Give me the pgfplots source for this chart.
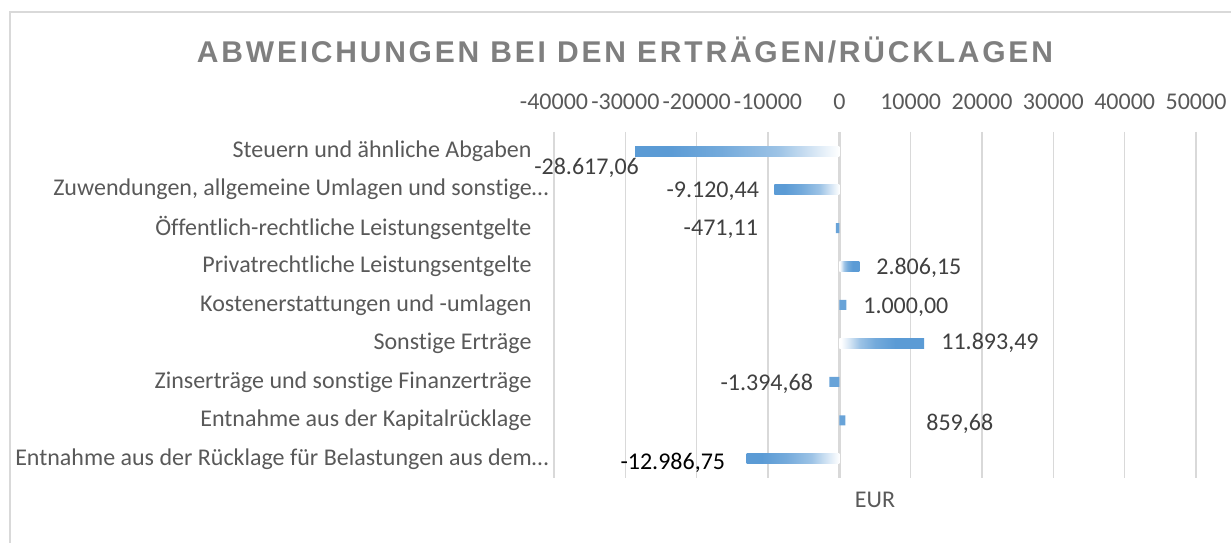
\documentclass[border=0pt]{standalone}
\usepackage{pgfplots}
\pgfplotsset{compat=1.18}
\usepackage{fontspec}
\setmainfont{Carlito}[Ligatures=NoCommon]
\newfontfamily\titlefont[LetterSpace=9.3]{Liberation Sans}
\definecolor{barblue}{HTML}{5B9BD5}
\definecolor{txtgray}{HTML}{595959}
\definecolor{lblgray}{HTML}{404040}
\definecolor{gridgray}{HTML}{D9D9D9}
\definecolor{titlegray}{HTML}{7F7F7F}
\colorlet{bbA}{barblue!85!white}
\colorlet{bbB}{barblue!60!white}
\colorlet{bbC}{barblue!20!white}
\pgfdeclarehorizontalshading{negfade}{100bp}{color(0bp)=(barblue); color(25bp)=(barblue); color(33bp)=(barblue); color(46bp)=(bbA); color(60bp)=(bbB); color(70bp)=(bbC); color(75bp)=(white); color(100bp)=(white)}
\pgfdeclarehorizontalshading{posfade}{100bp}{color(0bp)=(white); color(25bp)=(white); color(26bp)=(white); color(30bp)=(bbC); color(37bp)=(bbB); color(46bp)=(bbA); color(58bp)=(barblue); color(100bp)=(barblue)}
\newcommand{\lf}{\fontsize{24bp}{28bp}\selectfont}
\pgfplotsset{negbar/.style={xbar, bar width=10bp, bar shift=0pt, draw=none, shading=negfade},
  posbar/.style={xbar, bar width=10bp, bar shift=0pt, draw=none, shading=posfade}}
\begin{document}
\begin{tikzpicture}[x=1bp,y=1bp]
\useasboundingbox (0,0) rectangle (1231,543);
\draw[gridgray, line width=1.3bp] (10,-20) -- (10,531) -- (1260,531);
\node[font=\titlefont\fontsize{30bp}{34bp}\selectfont\bfseries, text=titlegray] at (625,493) {ABWEICHUNGEN BEI DEN ERTRÄGEN/RÜCKLAGEN};
\begin{axis}[
  at={(554bp,65bp)}, anchor=south west, scale only axis,
  width=642bp, height=346bp,
  xmin=-40000, xmax=50000, ymin=-0.5, ymax=8.5, y dir=reverse,
  scaled x ticks=false,
  xtick={-40000,-30000,-20000,-10000,0,10000,20000,30000,40000,50000},
  xticklabels={-40000,-30000,-20000,-10000,0,10000,20000,30000,40000,50000},
  xticklabel pos=upper,
  xticklabel style={font=\lf, text=txtgray, yshift=19bp},
  ytick={0,1,2,3,4,5,6,7,8},
  yticklabels={Steuern und ähnliche Abgaben,
    {Zuwendungen, allgemeine Umlagen und sonstige…\hspace*{-17bp}},
    Öffentlich-rechtliche Leistungsentgelte,
    Privatrechtliche Leistungsentgelte,
    Kostenerstattungen und -umlagen,
    Sonstige Erträge,
    Zinserträge und sonstige Finanzerträge,
    Entnahme aus der Kapitalrücklage,
    {Entnahme aus der Rücklage für Belastungen aus dem…\hspace*{-17bp}}},
  yticklabel style={font=\lf, text=txtgray, xshift=-19bp},
  axis line style={draw=none},
  major tick length=0pt,
  xmajorgrids, grid style={gridgray, line width=1.5bp},
  extra x ticks={0}, extra x tick labels={},
  extra x tick style={grid style={gridgray, line width=3.5bp}},
  xlabel={EUR},
  xlabel style={at={(axis description cs:0.5,0)}, anchor=north, font=\lf, text=txtgray, yshift=-11bp},
  clip=false,
]
\addplot[negbar] coordinates {(-28617.06,0)};
\addplot[negbar] coordinates {(-9120.44,1)};
\addplot[negbar] coordinates {(-12986.75,8)};
\addplot[posbar] coordinates {(2806.15,3)};
\addplot[posbar] coordinates {(11893.49,5)};
\addplot[xbar, bar width=10bp, bar shift=0pt, draw=none, fill=barblue!92!white]
  coordinates {(-471.11,2) (1000,4) (-1394.68,6) (859.68,7)};
\addplot[only marks, mark=*, mark size=0pt, mark options={draw=none, fill=none},
  point meta=explicit symbolic, nodes near coords,
  nodes near coords style={anchor=east, inner sep=0pt, font=\lf, text=lblgray}]
  coordinates {(-28078,0.437) [{-28.617,06}] (-11248,1.035) [{-9.120,44}] (-11388,2.024) [{-471,11}] (-3675,6.06) [{-1.394,68}]};
\addplot[only marks, mark=*, mark size=0pt, mark options={draw=none, fill=none},
  point meta=explicit symbolic, nodes near coords,
  nodes near coords style={anchor=east, inner sep=0pt, font=\lf, text=black}]
  coordinates {(-15990,8.11) [{-12.986,75}]};
\addplot[only marks, mark=*, mark size=0pt, mark options={draw=none, fill=none},
  point meta=explicit symbolic, nodes near coords,
  nodes near coords style={anchor=west, inner sep=0pt, font=\lf, text=lblgray}]
  coordinates {(5161,3.04) [{2.806,15}] (3338,4.05) [{1.000,00}] (14277,4.99) [{11.893,49}] (12174,7.10) [{859,68}]};
\end{axis}
\end{tikzpicture}
\end{document}
